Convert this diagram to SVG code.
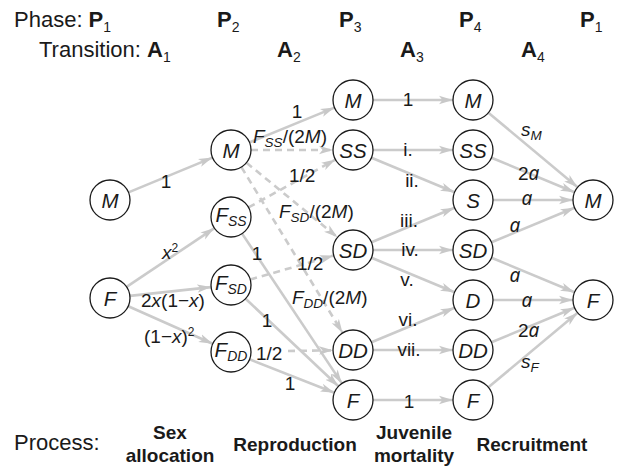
<svg xmlns="http://www.w3.org/2000/svg" width="618" height="467" viewBox="0 0 618 467">
<defs>
<marker id="ah" markerUnits="userSpaceOnUse" markerWidth="16" markerHeight="10" refX="14" refY="5" orient="auto">
<path d="M0,0.8 L14,5 L0,9.2 L3.5,5 Z" fill="#c8c8c8"/>
</marker>
<style>
.e{stroke:#cbcbcb;stroke-width:2.6;fill:none;marker-end:url(#ah)}
.d{stroke-dasharray:7 5}
.n circle{fill:#fff;stroke:#1a1a1a;stroke-width:1.3}
.n text{font-family:"Liberation Sans",Arial,sans-serif;font-style:italic;font-size:20.5px;text-anchor:middle;fill:#1a1a1a}
.sub{font-size:14px}
text{font-family:"Liberation Sans",Arial,sans-serif;fill:#1a1a1a}
.lb{font-size:19px}
.c{text-anchor:middle}
.i{font-style:italic}
.al{font-family:"Noto Sans","Open Sans",sans-serif;font-style:italic}
.h{font-size:22px}
.b{font-weight:bold}
.p{font-size:19px;font-weight:bold;text-anchor:middle}
</style>
</defs>
<g id="headers">
<text class="h" x="14" y="27">Phase: <tspan class="b">P</tspan><tspan font-size="14" dy="5">1</tspan></text>
<text class="h" x="217" y="27"><tspan class="b">P</tspan><tspan font-size="14" dy="5">2</tspan></text>
<text class="h" x="339" y="27"><tspan class="b">P</tspan><tspan font-size="14" dy="5">3</tspan></text>
<text class="h" x="459" y="27"><tspan class="b">P</tspan><tspan font-size="14" dy="5">4</tspan></text>
<text class="h" x="580" y="27"><tspan class="b">P</tspan><tspan font-size="14" dy="5">1</tspan></text>
<text class="h" x="39" y="57">Transition: <tspan class="b">A</tspan><tspan font-size="14" dy="5">1</tspan></text>
<text class="h" x="277" y="57"><tspan class="b">A</tspan><tspan font-size="14" dy="5">2</tspan></text>
<text class="h" x="400" y="57"><tspan class="b">A</tspan><tspan font-size="14" dy="5">3</tspan></text>
<text class="h" x="521" y="57"><tspan class="b">A</tspan><tspan font-size="14" dy="5">4</tspan></text>
</g>
<g id="connectors">
<line class="e" x1="128.5" y1="192.4" x2="212.5" y2="157.6"/>
<line class="e" x1="126.6" y1="286.9" x2="214.4" y2="228.1"/>
<line class="e" x1="129.9" y1="295.9" x2="211.1" y2="287.1"/>
<line class="e" x1="128.3" y1="306.2" x2="212.7" y2="343.8"/>
<line class="e" x1="249.5" y1="142.4" x2="334.5" y2="107.6"/>
<line class="e d" x1="251" y1="150" x2="333" y2="150"/>
<line class="e d" x1="246.5" y1="162.7" x2="337.5" y2="237.3"/>
<line class="e d" x1="241.4" y1="167.1" x2="342.6" y2="332.9"/>
<line class="e d" x1="248.5" y1="207.4" x2="335.5" y2="159.6"/>
<line class="e" x1="242.1" y1="233.6" x2="341.9" y2="383.4"/>
<line class="e d" x1="250.2" y1="279.5" x2="333.8" y2="255.5"/>
<line class="e" x1="245.6" y1="298.7" x2="338.4" y2="386.3"/>
<line class="e d" x1="288" y1="351" x2="333" y2="350.3"/>
<line class="e" x1="249.6" y1="359.3" x2="334.4" y2="392.7"/>
<line class="e" x1="373" y1="100" x2="453" y2="100"/>
<line class="e" x1="373" y1="150" x2="453" y2="150"/>
<line class="e" x1="371.5" y1="157.7" x2="454.5" y2="192.3"/>
<line class="e" x1="371.5" y1="242.3" x2="454.5" y2="207.7"/>
<line class="e" x1="373" y1="250" x2="453" y2="250"/>
<line class="e" x1="371.5" y1="257.7" x2="454.5" y2="292.3"/>
<line class="e" x1="371.5" y1="342.3" x2="454.5" y2="307.7"/>
<line class="e" x1="373" y1="350" x2="453" y2="350"/>
<line class="e" x1="373" y1="400" x2="453" y2="400"/>
<line class="e" x1="488.4" y1="112.8" x2="577.6" y2="187.2"/>
<line class="e" x1="491.5" y1="157.7" x2="574.5" y2="192.3"/>
<line class="e" x1="493" y1="200" x2="573" y2="200"/>
<line class="e" x1="491.5" y1="242.3" x2="574.5" y2="207.7"/>
<line class="e" x1="491.5" y1="257.7" x2="574.5" y2="292.3"/>
<line class="e" x1="493" y1="300" x2="573" y2="300"/>
<line class="e" x1="491.5" y1="342.3" x2="574.5" y2="307.7"/>
<line class="e" x1="488.4" y1="387.2" x2="577.6" y2="312.8"/>
</g>
<g id="edge-labels">
<text class="lb c" x="166" y="188">1</text>
<text class="lb" x="162" y="259"><tspan class="i">x</tspan><tspan font-size="12" dy="-7">2</tspan></text>
<text class="lb" x="141" y="307">2<tspan class="i">x</tspan>(1−<tspan class="i">x</tspan>)</text>
<text class="lb" x="144" y="343">(1−<tspan class="i">x</tspan>)<tspan font-size="12" dy="-7">2</tspan></text>
<text class="lb c" x="257" y="260">1</text>
<text class="lb c" x="267" y="327">1</text>
<text class="lb" x="256" y="360">1/2</text>
<text class="lb c" x="290" y="390">1</text>
<text class="lb c" x="297" y="118">1</text>
<text class="lb" x="253" y="143"><tspan class="i">F</tspan><tspan class="i" font-size="13.5" dy="4">SS</tspan><tspan dy="-4">/(2</tspan><tspan class="i">M</tspan>)</text>
<text class="lb" x="289" y="182">1/2</text>
<text class="lb" x="279" y="218"><tspan class="i">F</tspan><tspan class="i" font-size="13.5" dy="4">SD</tspan><tspan dy="-4">/(2</tspan><tspan class="i">M</tspan>)</text>
<text class="lb" x="297" y="270">1/2</text>
<text class="lb" x="292" y="304"><tspan class="i">F</tspan><tspan class="i" font-size="13.5" dy="4">DD</tspan><tspan dy="-4">/(2</tspan><tspan class="i">M</tspan>)</text>
<text class="lb c" x="408" y="106">1</text>
<text class="lb c" x="408" y="156">i.</text>
<text class="lb c" x="412" y="187">ii.</text>
<text class="lb c" x="409" y="227">iii.</text>
<text class="lb c" x="410" y="256">iv.</text>
<text class="lb c" x="407" y="286">v.</text>
<text class="lb c" x="408" y="326">vi.</text>
<text class="lb c" x="409" y="356">vii.</text>
<text class="lb c" x="409" y="408">1</text>
<text class="lb" x="521" y="136"><tspan class="i">s</tspan><tspan class="i" font-size="13.5" dy="4">M</tspan></text>
<text class="lb" x="518" y="180">2<tspan class="al">a</tspan></text>
<text class="lb c al" x="527" y="205">a</text>
<text class="lb c al" x="515" y="232">a</text>
<text class="lb c al" x="515" y="282">a</text>
<text class="lb c al" x="527" y="307">a</text>
<text class="lb" x="518" y="337">2<tspan class="al">a</tspan></text>
<text class="lb" x="521" y="368"><tspan class="i">s</tspan><tspan class="i" font-size="13.5" dy="4">F</tspan></text>
</g>
<g id="n-M1" class="n"><circle cx="110" cy="200" r="20"/><text x="110" y="207.5">M</text></g>
<g id="n-F1" class="n"><circle cx="110" cy="298" r="20"/><text x="110" y="305.5">F</text></g>
<g id="n-M2" class="n"><circle cx="231" cy="150" r="20"/><text x="231" y="157.5">M</text></g>
<g id="n-FSS" class="n"><circle cx="231" cy="217" r="20"/><text x="231" y="222">F<tspan class="sub" dy="4">SS</tspan></text></g>
<g id="n-FSD" class="n"><circle cx="231" cy="285" r="20"/><text x="231" y="290">F<tspan class="sub" dy="4">SD</tspan></text></g>
<g id="n-FDD" class="n"><circle cx="231" cy="352" r="20"/><text x="231" y="357">F<tspan class="sub" dy="4">DD</tspan></text></g>
<g id="n-M3" class="n"><circle cx="353" cy="100" r="20"/><text x="353" y="107.5">M</text></g>
<g id="n-SS3" class="n"><circle cx="353" cy="150" r="20"/><text x="353" y="157.5">SS</text></g>
<g id="n-SD3" class="n"><circle cx="353" cy="250" r="20"/><text x="353" y="257.5">SD</text></g>
<g id="n-DD3" class="n"><circle cx="353" cy="350" r="20"/><text x="353" y="357.5">DD</text></g>
<g id="n-F3" class="n"><circle cx="353" cy="400" r="20"/><text x="353" y="407.5">F</text></g>
<g id="n-M4" class="n"><circle cx="473" cy="100" r="20"/><text x="473" y="107.5">M</text></g>
<g id="n-SS4" class="n"><circle cx="473" cy="150" r="20"/><text x="473" y="157.5">SS</text></g>
<g id="n-S4" class="n"><circle cx="473" cy="200" r="20"/><text x="473" y="207.5">S</text></g>
<g id="n-SD4" class="n"><circle cx="473" cy="250" r="20"/><text x="473" y="257.5">SD</text></g>
<g id="n-D4" class="n"><circle cx="473" cy="300" r="20"/><text x="473" y="307.5">D</text></g>
<g id="n-DD4" class="n"><circle cx="473" cy="350" r="20"/><text x="473" y="357.5">DD</text></g>
<g id="n-F4" class="n"><circle cx="473" cy="400" r="20"/><text x="473" y="407.5">F</text></g>
<g id="n-M5" class="n"><circle cx="593" cy="200" r="20"/><text x="593" y="207.5">M</text></g>
<g id="n-F5" class="n"><circle cx="593" cy="300" r="20"/><text x="593" y="307.5">F</text></g>
<g id="process">
<text class="h" x="14" y="450">Process:</text>
<text class="p" x="170" y="439">Sex</text>
<text class="p" x="170" y="462">allocation</text>
<text class="p" x="295" y="451">Reproduction</text>
<text class="p" x="414" y="439">Juvenile</text>
<text class="p" x="414" y="462">mortality</text>
<text class="p" x="532" y="451">Recruitment</text>
</g>
</svg>
